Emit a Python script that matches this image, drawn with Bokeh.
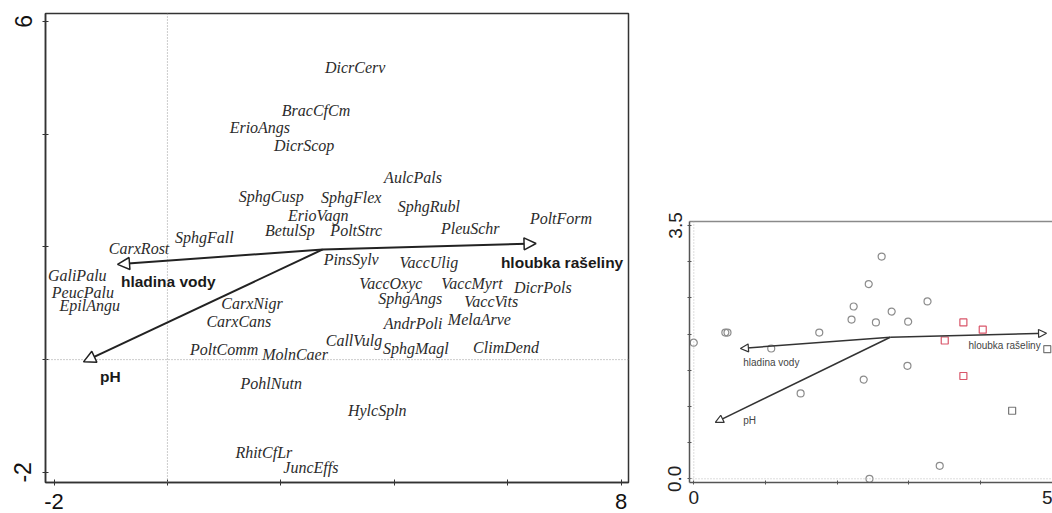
from bokeh.plotting import figure
from bokeh.models import (Range1d, FixedTicker, Span, Arrow, NormalHead,
                          LinearAxis, ColumnDataSource, Spacer)
from bokeh.layouts import row, column
from bokeh.embed import file_html
from bokeh.resources import INLINE
from bokeh.core.properties import value

# ---------------- data: species scores (left panel) ----------------
species = ["DicrCerv", "BracCfCm", "ErioAngs", "DicrScop", "AulcPals", "SphgCusp",
           "SphgFlex", "SphgRubl", "ErioVagn", "PoltForm", "PleuSchr", "BetulSp",
           "PoltStrc", "SphgFall", "CarxRost", "PinsSylv", "VaccUlig", "GaliPalu",
           "VaccOxyc", "VaccMyrt", "DicrPols", "PeucPalu", "SphgAngs", "VaccVits",
           "CarxNigr", "EpilAngu", "MelaArve", "CarxCans", "AndrPoli", "CallVulg",
           "ClimDend", "SphgMagl", "PoltComm", "MolnCaer", "PohlNutn", "HylcSpln",
           "RhitCfLr", "JuncEffs"]
species_x = [3.31, 2.62, 1.63, 2.41, 4.33, 1.83,
             3.24, 4.61, 2.66, 6.94, 5.34, 2.16,
             3.33, 0.65, -0.50, 3.24, 4.61, -1.59,
             3.94, 5.37, 6.62, -1.49, 4.28, 5.71,
             1.49, -1.37, 5.50, 1.26, 4.33, 3.29,
             5.97, 4.38, 1.00, 2.25, 1.83, 3.70,
             1.70, 2.53]
species_y = [5.18, 4.42, 4.12, 3.80, 3.23, 2.90,
             2.88, 2.71, 2.56, 2.50, 2.33, 2.29,
             2.29, 2.17, 1.97, 1.77, 1.73, 1.50,
             1.35, 1.35, 1.28, 1.19, 1.09, 1.03,
             1.00, 0.96, 0.71, 0.68, 0.64, 0.34,
             0.22, 0.20, 0.18, 0.09, -0.42, -0.90,
             -1.65, -1.92]

# ---------------- data: environmental arrows ----------------
env_names = ["hloubka rašeliny", "hladina vody", "pH"]
env_origin_x = 2.74
env_origin_y = 1.955
# left panel (species biplot)
env_left_x = [6.50, -0.88, -1.48]
env_left_y = [2.06, 1.69, -0.04]
env_left_label_x = [5.88, -0.82, -1.19]
env_left_label_y = [1.73, 1.39, -0.30]
# right panel (site biplot)
env_right_x = [4.92, 0.65, 0.30]
env_right_y = [2.01, 1.80, 0.78]
env_right_label_x = [3.83, 0.69, 0.69]
env_right_label_y = [1.84, 1.61, 0.81]

# ---------------- data: site scores (right panel) ----------------
circle_x = [0.00, 0.44, 0.47, 1.08, 1.75, 2.20, 2.23, 1.49, 2.62,
            2.44, 2.54, 2.76, 3.26, 2.99, 2.98, 2.37, 3.43, 2.45]
circle_y = [1.88, 2.02, 2.02, 1.80, 2.02, 2.20, 2.38, 1.18, 3.07,
            2.69, 2.16, 2.31, 2.45, 2.17, 1.56, 1.37, 0.18, 0.00]
red_square_x = [3.76, 4.03, 3.50, 3.76]
red_square_y = [2.16, 2.06, 1.91, 1.42]
gray_square_x = [4.44, 4.93]
gray_square_y = [0.94, 1.79]

# ---------------- tick labels ----------------
left_x_ticks = [-2, 0, 2, 4, 6, 8]
left_x_labels = {-2: "-2", 0: "", 2: "", 4: "", 6: "", 8: "8"}
left_y_ticks = [-2, 0, 2, 4, 6]
left_y_labels = {-2: "-2", 0: "", 2: "", 4: "", 6: "6"}
right_x_ticks = [0, 1, 2, 3, 4, 5]
right_x_labels = {0: "0", 1: "", 2: "", 3: "", 4: "", 5: "5"}
right_y_ticks = [0, 0.5, 1, 1.5, 2, 2.5, 3, 3.5]
right_y_labels = {0: "0.0", 0.5: "", 1: "", 1.5: "", 2: "", 2.5: "", 3: "", 3.5: "3.5"}

SANS = "Liberation Sans"
SERIF = "Liberation Serif"

# ================= left panel =================
p1 = figure(width=660, height=513, output_backend="svg", toolbar_location=None,
            x_range=Range1d(-2.15, 8.13), y_range=Range1d(-2.18, 6.14),
            min_border_left=45, min_border_right=32, min_border_top=13,
            min_border_bottom=31)
p1.grid.visible = False
p1.outline_line_color = "#333333"
p1.outline_line_width = 1.5
p1.background_fill_color = "white"
p1.border_fill_color = "white"

for ax in (p1.xaxis[0], p1.yaxis[0]):
    ax.axis_line_color = "#333333"
    ax.axis_line_width = 1.5
    ax.major_tick_line_color = "#333333"
    ax.major_tick_in = 3
    ax.major_tick_out = 3
    ax.minor_tick_line_color = None
    ax.major_label_text_font = SANS
    ax.major_label_text_color = "#111111"
p1.xaxis.major_label_text_font_size = "22px"
p1.yaxis.major_label_text_font_size = "23px"
p1.xaxis.ticker = FixedTicker(ticks=left_x_ticks)
p1.xaxis.major_label_overrides = left_x_labels
p1.xaxis.major_label_standoff = 8
p1.yaxis.ticker = FixedTicker(ticks=left_y_ticks)
p1.yaxis.major_label_overrides = left_y_labels
p1.yaxis.major_label_orientation = "vertical"
p1.yaxis.major_label_standoff = 11

p1.add_layout(Span(location=0, dimension="height", line_color="#999999",
                   line_dash="1 2", line_width=1))
p1.add_layout(Span(location=0, dimension="width", line_color="#999999",
                   line_dash="1 2", line_width=1))

sp_src = ColumnDataSource(dict(x=species_x, y=species_y, t=species))
p1.text(x="x", y="y", text="t", source=sp_src, text_font=value(SERIF),
        text_font_style="italic", text_font_size="16px", text_color="#2b2b2b",
        text_align="center", text_baseline="middle")

env_l_src = ColumnDataSource(dict(x0=[env_origin_x] * 3, y0=[env_origin_y] * 3,
                                  x1=env_left_x, y1=env_left_y))
p1.add_layout(Arrow(source=env_l_src, x_start="x0", y_start="y0", x_end="x1", y_end="y1",
                    line_color="#222222", line_width=2,
                    end=NormalHead(size=12, fill_color="white", line_color="#222222",
                                   line_width=1.5)))
env_l_lab = ColumnDataSource(dict(x=env_left_label_x, y=env_left_label_y, t=env_names))
p1.text(x="x", y="y", text="t", source=env_l_lab, text_font=value(SANS),
        text_font_style="bold", text_font_size="15.5px", text_color="#1a1a1a",
        text_align="left", text_baseline="middle")

# ================= right panel =================
p2 = figure(width=392, height=305, output_backend="svg", toolbar_location=None,
            x_range=Range1d(-0.06, 5.003), y_range=Range1d(-0.051, 3.554),
            min_border_left=29, min_border_right=0, min_border_top=13,
            min_border_bottom=31)
p2.grid.visible = False
p2.outline_line_color = None
p2.background_fill_color = "white"
p2.border_fill_color = "white"

for ax in (p2.xaxis[0], p2.yaxis[0]):
    ax.axis_line_color = "#555555"
    ax.axis_line_width = 1.5
    ax.major_tick_line_color = "#555555"
    ax.major_tick_in = 2
    ax.major_tick_out = 2
    ax.minor_tick_line_color = None
    ax.major_label_text_font = SANS
    ax.major_label_text_font_size = "19px"
    ax.major_label_text_color = "#222222"
p2.xaxis.ticker = FixedTicker(ticks=right_x_ticks)
p2.xaxis.major_label_overrides = right_x_labels
p2.xaxis.major_label_standoff = 6
p2.yaxis.ticker = FixedTicker(ticks=right_y_ticks)
p2.yaxis.major_label_overrides = right_y_labels
p2.yaxis.major_label_orientation = "vertical"
p2.yaxis.major_label_standoff = 6

top_axis = LinearAxis(axis_line_color="#8a8a8a", axis_line_width=1.5,
                      major_tick_line_color=None, minor_tick_line_color=None,
                      major_label_text_font_size="0px", ticker=FixedTicker(ticks=[]))
p2.add_layout(top_axis, "above")

p2.add_layout(Span(location=0, dimension="height", line_color="#bbbbbb",
                   line_dash="1 2", line_width=1))
p2.add_layout(Span(location=0, dimension="width", line_color="#bbbbbb",
                   line_dash="1 2", line_width=1))

env_r_src = ColumnDataSource(dict(x0=[env_origin_x] * 3, y0=[env_origin_y] * 3,
                                  x1=env_right_x, y1=env_right_y))
p2.add_layout(Arrow(source=env_r_src, x_start="x0", y_start="y0", x_end="x1", y_end="y1",
                    line_color="#333333", line_width=1.5,
                    end=NormalHead(size=8, fill_color="white", line_color="#333333",
                                   line_width=1.2)))
env_r_lab = ColumnDataSource(dict(x=env_right_label_x, y=env_right_label_y, t=env_names))
p2.text(x="x", y="y", text="t", source=env_r_lab, text_font=value(SANS),
        text_font_size="10px", text_color="#444444",
        text_align="left", text_baseline="middle")

p2.scatter(circle_x, circle_y, marker="circle", size=7, fill_color=None,
           line_color="#8c8c8c", line_width=1.2)
p2.scatter(red_square_x, red_square_y, marker="square", size=7, fill_color=None,
           line_color="#d9566a", line_width=1.2)
p2.scatter(gray_square_x, gray_square_y, marker="square", size=7, fill_color=None,
           line_color="#777777", line_width=1.2)

right_col = column(Spacer(width=392, height=208), p2, spacing=0)
layout = row(p1, right_col, spacing=0)
open("out.html", "w").write(file_html(layout, INLINE))
